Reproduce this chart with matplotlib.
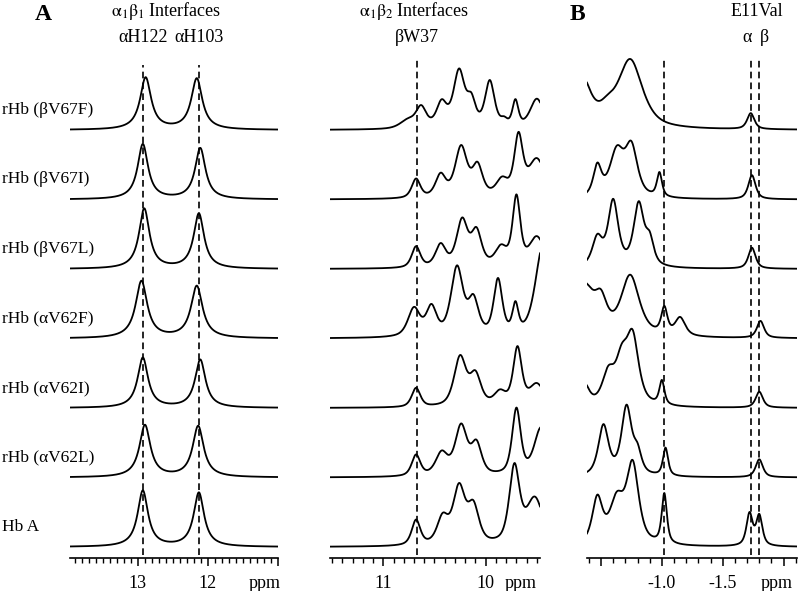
import numpy as np
import matplotlib.pyplot as plt

plt.rcParams['font.family'] = ['Liberation Serif', 'DejaVu Serif']
plt.rcParams['mathtext.fontset'] = 'stix'

# samples, top to bottom
SAMPLES = ["rHb (βV67F)", "rHb (βV67I)", "rHb (βV67L)",
           "rHb (αV62F)", "rHb (αV62I)", "rHb (αV62L)", "Hb A"]

# resonances: (shift ppm, height, half width ppm)
PEAKS_A = [
    [(12.89, 52, 0.095), (12.16, 51, 0.095)],
    [(12.93, 55, 0.09), (12.11, 51, 0.09)],
    [(12.91, 60, 0.09), (12.13, 55, 0.09)],
    [(12.95, 57, 0.10), (12.16, 52, 0.10)],
    [(12.93, 50, 0.09), (12.11, 48, 0.09)],
    [(12.90, 52, 0.095), (12.14, 51, 0.095)],
    [(12.93, 56, 0.09), (12.13, 54, 0.09)],
]

PEAKS_W37 = [
    [(10.76, 8, 0.09), (10.63, 20, 0.06), (10.43, 24, 0.06), (10.26, 56, 0.065),
     (10.14, 24, 0.05), (9.96, 46, 0.055), (9.82, 6, 0.04), (9.71, 26, 0.035),
     (9.50, 30, 0.08)],
    [(10.68, 19, 0.05), (10.44, 22, 0.06), (10.24, 50, 0.07), (10.08, 30, 0.06),
     (9.84, 16, 0.07), (9.68, 58, 0.05), (9.50, 38, 0.10)],
    [(10.68, 21, 0.05), (10.44, 22, 0.06), (10.23, 46, 0.065), (10.09, 34, 0.06),
     (9.85, 18, 0.07), (9.70, 68, 0.045), (9.50, 30, 0.09)],
    [(10.70, 28, 0.07), (10.53, 28, 0.06), (10.28, 68, 0.07), (10.12, 34, 0.06),
     (9.88, 55, 0.05), (9.71, 28, 0.035), (9.44, 92, 0.09)],
    [(10.68, 19, 0.05), (10.25, 49, 0.07), (10.10, 30, 0.065), (9.86, 13, 0.07),
     (9.69, 57, 0.05), (9.50, 22, 0.09)],
    [(10.68, 21, 0.05), (10.43, 22, 0.07), (10.24, 49, 0.07), (10.09, 30, 0.06),
     (9.70, 66, 0.05), (9.46, 48, 0.08)],
    [(10.68, 25, 0.05), (10.42, 26, 0.065), (10.26, 56, 0.07), (10.12, 36, 0.065),
     (9.72, 76, 0.06), (9.52, 46, 0.10)],
]

PEAKS_B = [
    [(-0.34, 50, 0.09), (-0.55, 12, 0.08), (-0.74, 68, 0.12), (-1.73, 16, 0.035)],
    [(-0.47, 30, 0.04), (-0.63, 45, 0.07), (-0.75, 48, 0.06), (-0.98, 24, 0.025),
     (-1.74, 24, 0.035)],
    [(-0.47, 28, 0.05), (-0.60, 65, 0.05), (-0.81, 62, 0.05), (-0.90, 24, 0.04),
     (-1.74, 21, 0.035)],
    [(-0.36, 50, 0.10), (-0.50, 28, 0.06), (-0.74, 60, 0.09), (-1.02, 26, 0.03),
     (-1.15, 18, 0.05), (-1.81, 17, 0.035)],
    [(-0.36, 22, 0.05), (-0.56, 30, 0.06), (-0.67, 40, 0.06), (-0.76, 65, 0.06),
     (-1.00, 24, 0.025), (-1.80, 16, 0.035)],
    [(-0.52, 50, 0.05), (-0.71, 68, 0.05), (-0.80, 20, 0.04), (-1.03, 28, 0.025),
     (-1.80, 18, 0.035)],
    [(-0.47, 45, 0.05), (-0.63, 42, 0.07), (-0.76, 78, 0.06), (-1.02, 50, 0.025),
     (-1.72, 32, 0.03), (-1.80, 30, 0.03)],
]

# Lorentzian share of the line shape in each panel
MIX_A, MIX_W37, MIX_B = 1.0, 0.6, 0.7

# marker lines and their labels
MARK_A = [12.93, 12.13]
MARK_A_LABELS = ["αH122", "αH103"]
MARK_W37 = [10.67]
MARK_B = [-1.02, -1.73, -1.80]

W, H = 800, 591
AXIS_Y = 558      # pixel row of the ppm axes
OFFSET = 69.5     # vertical step between spectra
BASE = 11         # bottom spectrum baseline above the axis


def spectrum(ppm, peaks, mix):
    y = np.zeros_like(ppm)
    for shift, height, hw in peaks:
        u = (ppm - shift) / hw
        y += height * (mix / (1 + u ** 2) + (1 - mix) * np.exp(-np.log(2) * u ** 2))
    return y


def make_panel(fig, x0, x1, xlim, peaks, mix, majors, labels, minor_step):
    ax = fig.add_axes([x0 / W, (H - AXIS_Y) / H, (x1 - x0) / W, AXIS_Y / H])
    ax.set_xlim(*xlim)
    ax.set_ylim(0, AXIS_Y)
    ppm = np.linspace(xlim[0], xlim[1], 1500)
    n = len(peaks)
    for i, pk in enumerate(peaks):
        base = BASE + (n - 1 - i) * OFFSET
        ax.plot(ppm, base + spectrum(ppm, pk, mix), color='black', lw=1.3)
    for s in ['top', 'left', 'right']:
        ax.spines[s].set_visible(False)
    ax.spines['bottom'].set_linewidth(1.2)
    ax.set_yticks([])
    ax.set_xticks(majors)
    ax.set_xticklabels(labels)
    lo, hi = min(xlim), max(xlim)
    minors = np.arange(np.ceil(lo / minor_step) * minor_step, hi + 1e-9, minor_step)
    ax.set_xticks(minors, minor=True)
    ax.tick_params(axis='x', which='major', length=6, width=1.1, pad=6, labelsize=13)
    ax.tick_params(axis='x', which='minor', length=3.5, width=1.0)
    return ax


fig = plt.figure(figsize=(W / 100, H / 100), dpi=100)

ax_a = make_panel(fig, 70, 278, (13.97, 11.0), PEAKS_A, MIX_A,
                  [13, 12, 11], ['13', '12', ''], 0.1)
ax_w = make_panel(fig, 330, 540, (11.52, 9.47), PEAKS_W37, MIX_W37,
                  [11, 10], ['11', '10'], 0.1)
ax_b = make_panel(fig, 587, 797, (-0.385, -2.11), PEAKS_B, MIX_B,
                  [-0.5, -1.0, -1.5, -2.0], ['', '-1.0', '-1.5', ''], 0.1)

dash = (0, (4, 2.5))
ax_a.vlines(MARK_A, 3, AXIS_Y - 65, colors='black', lw=1.2, linestyles=[dash])
ax_w.vlines(MARK_W37, 3, AXIS_Y - 57, colors='black', lw=1.2, linestyles=[dash])
ax_b.vlines(MARK_B, 3, AXIS_Y - 57, colors='black', lw=1.2, linestyles=[dash])

for x, t in zip(MARK_A, MARK_A_LABELS):
    ax_a.text(x, AXIS_Y - 37, t, ha='center', va='center', fontsize=13)
ax_a.text(12.60, AXIS_Y - 11, r'$\mathrm{α}_{1}\mathrm{β}_{1}$ Interfaces',
          ha='center', va='center', fontsize=13)
ax_w.text(MARK_W37[0], AXIS_Y - 37, 'βW37', ha='center', va='center', fontsize=13)
ax_w.text(10.70, AXIS_Y - 11, r'$\mathrm{α}_{1}\mathrm{β}_{2}$ Interfaces',
          ha='center', va='center', fontsize=13)
ax_b.text(-1.78, AXIS_Y - 12, 'E11Val', ha='center', va='center', fontsize=13)
ax_b.text(-1.70, AXIS_Y - 37, 'α', ha='center', va='center', fontsize=13)
ax_b.text(-1.84, AXIS_Y - 37, 'β', ha='center', va='center', fontsize=13)

for ax, x in [(ax_a, 11.19), (ax_w, 9.66), (ax_b, -1.94)]:
    ax.text(x, -26, 'ppm', ha='center', va='center', fontsize=13, clip_on=False)

fig.text(43 / W, 1 - 15 / H, 'A', ha='center', va='center', fontsize=17, fontweight='bold')
fig.text(577 / W, 1 - 15 / H, 'B', ha='center', va='center', fontsize=17, fontweight='bold')

for i, name in enumerate(SAMPLES):
    ypix = 130 + i * OFFSET - 20
    fig.text(2 / W, 1 - ypix / H, name, ha='left', va='center', fontsize=12.5)

fig.savefig('out.png', dpi=100)
